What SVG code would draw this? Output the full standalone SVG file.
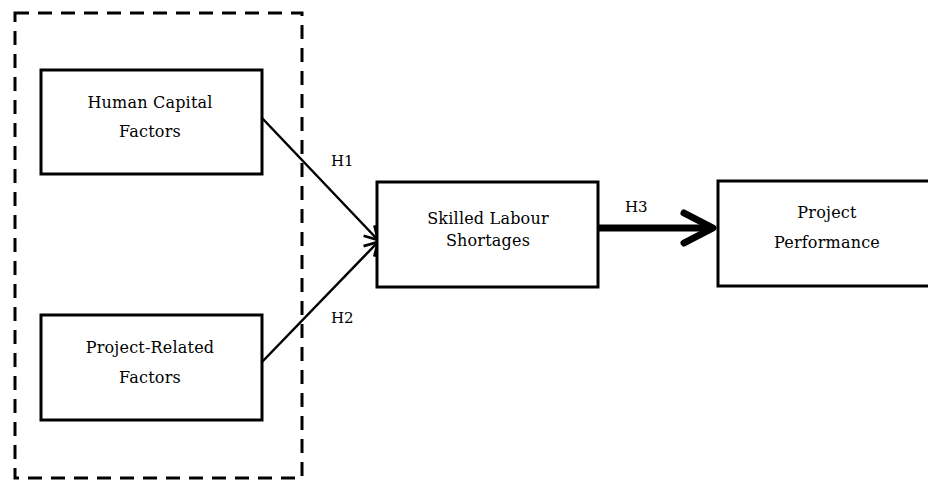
<svg xmlns="http://www.w3.org/2000/svg" width="928" height="480" viewBox="0 0 928 480">
<defs>
<style>
.box{fill:#fff;stroke:#000;stroke-width:3}
.t{font-family:'DejaVu Serif','Liberation Serif',serif;font-size:16px;fill:#000;text-anchor:middle;letter-spacing:0.2px}
.lbl{font-family:'DejaVu Serif','Liberation Serif',serif;font-size:15px;fill:#000}
.ln{fill:none;stroke:#000;stroke-width:2.5}
</style>
<marker id="ah" markerUnits="userSpaceOnUse" viewBox="0 0 20 20" refX="18" refY="10" markerWidth="20" markerHeight="20" orient="auto">
<path d="M5,2.5 L18,10 L5,17.5" fill="none" stroke="#000" stroke-width="2.8"/>
</marker>
</defs>
<rect x="0" y="0" width="928" height="480" fill="#fff"/>
<rect id="group" x="15" y="13" width="287" height="465" fill="none" stroke="#000" stroke-width="3" stroke-dasharray="14 9"/>
<g id="connectors">
<line class="ln" x1="262" y1="118" x2="378" y2="240" marker-end="url(#ah)"/>
<line class="ln" x1="262" y1="362" x2="378" y2="242" marker-end="url(#ah)"/>
<line x1="598" y1="228" x2="706" y2="228" stroke="#000" stroke-width="7"/>
<path d="M684,213 L713,228 L684,243" fill="none" stroke="#000" stroke-width="7" stroke-linecap="round" stroke-linejoin="round"/>
<text class="lbl" x="331" y="166">H1</text>
<text class="lbl" x="331" y="323">H2</text>
<text class="lbl" x="625" y="212">H3</text>
</g>
<g id="human">
<rect class="box" x="41" y="70" width="221" height="104"/>
<text class="t" x="150" y="108">Human Capital</text>
<text class="t" x="150" y="137">Factors</text>
</g>
<g id="project-related">
<rect class="box" x="41" y="315" width="221" height="105"/>
<text class="t" x="150" y="353">Project-Related</text>
<text class="t" x="150" y="383">Factors</text>
</g>
<g id="skilled">
<rect class="box" x="377" y="182" width="221" height="105"/>
<text class="t" x="488" y="224">Skilled Labour</text>
<text class="t" x="488" y="246">Shortages</text>
</g>
<g id="performance">
<rect class="box" x="718" y="181" width="220" height="105"/>
<text class="t" x="827" y="218">Project</text>
<text class="t" x="827" y="248">Performance</text>
</g>
</svg>
